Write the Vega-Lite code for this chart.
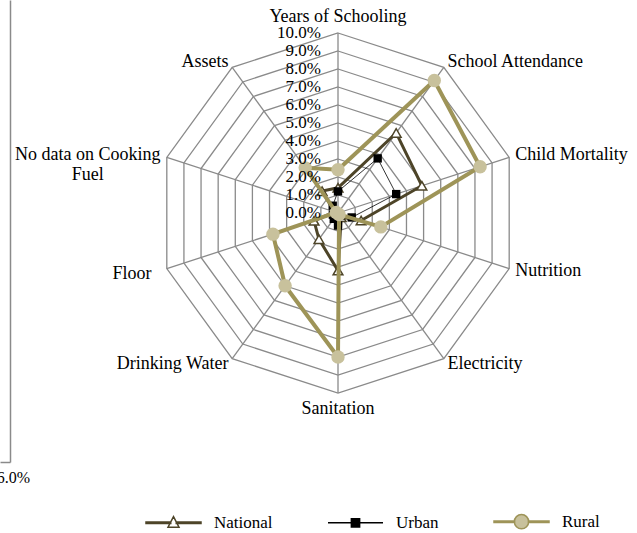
{
  "$schema": "https://vega.github.io/schema/vega-lite/v6.json",
  "width": 637,
  "height": 462,
  "autosize": {"type": "none"},
  "padding": {"left": 0, "top": 0, "right": 0, "bottom": 71},
  "background": "white",
  "config": {"view": {"stroke": null}, "font": "Liberation Serif"},
  "datasets": {
    "mpi": [
      {"idx": 0, "category": "Years of Schooling", "National": 1.4, "Urban": 1.2, "Rural": 2.4},
      {"idx": 1, "category": "School Attendance", "National": 5.5, "Urban": 3.75, "Rural": 9.1},
      {"idx": 2, "category": "Child Mortality", "National": 4.9, "Urban": 3.4, "Rural": 8.3},
      {"idx": 3, "category": "Nutrition", "National": 1.35, "Urban": 0.8, "Rural": 2.5},
      {"idx": 4, "category": "Electricity", "National": 0.3, "Urban": 0.2, "Rural": 0.1},
      {"idx": 5, "category": "Sanitation", "National": 3.2, "Urban": 0.7, "Rural": 8.0},
      {"idx": 6, "category": "Drinking Water", "National": 1.8, "Urban": 0.4, "Rural": 5.0},
      {"idx": 7, "category": "Floor", "National": 1.4, "Urban": 0.3, "Rural": 3.8},
      {"idx": 8, "category": "No data on Cooking Fuel", "National": 0.2, "Urban": 0.1, "Rural": 0.1},
      {"idx": 9, "category": "Assets", "National": 1.5, "Urban": 0.5, "Rural": 3.1}
    ],
    "rings": [
      {"level": 1, "k": [0, 1, 2, 3, 4, 5, 6, 7, 8, 9]},
      {"level": 2, "k": [0, 1, 2, 3, 4, 5, 6, 7, 8, 9]},
      {"level": 3, "k": [0, 1, 2, 3, 4, 5, 6, 7, 8, 9]},
      {"level": 4, "k": [0, 1, 2, 3, 4, 5, 6, 7, 8, 9]},
      {"level": 5, "k": [0, 1, 2, 3, 4, 5, 6, 7, 8, 9]},
      {"level": 6, "k": [0, 1, 2, 3, 4, 5, 6, 7, 8, 9]},
      {"level": 7, "k": [0, 1, 2, 3, 4, 5, 6, 7, 8, 9]},
      {"level": 8, "k": [0, 1, 2, 3, 4, 5, 6, 7, 8, 9]},
      {"level": 9, "k": [0, 1, 2, 3, 4, 5, 6, 7, 8, 9]},
      {"level": 10, "k": [0, 1, 2, 3, 4, 5, 6, 7, 8, 9]}
    ],
    "ticks": [
      {"level": 0, "tick": "0.0%"},
      {"level": 1, "tick": "1.0%"},
      {"level": 2, "tick": "2.0%"},
      {"level": 3, "tick": "3.0%"},
      {"level": 4, "tick": "4.0%"},
      {"level": 5, "tick": "5.0%"},
      {"level": 6, "tick": "6.0%"},
      {"level": 7, "tick": "7.0%"},
      {"level": 8, "tick": "8.0%"},
      {"level": 9, "tick": "9.0%"},
      {"level": 10, "tick": "10.0%"}
    ],
    "keys": [{"series": "National"}, {"series": "Urban"}, {"series": "Rural"}]
  },
  "layer": [
    {
      "data": {"name": "rings"},
      "transform": [
        {"flatten": ["k"]},
        {"calculate": "datum.k * PI / 5", "as": "a"},
        {"calculate": "datum.level * sin(datum.a)", "as": "gx"},
        {"calculate": "datum.level * cos(datum.a)", "as": "gy"}
      ],
      "mark": {"type": "line", "interpolate": "linear-closed", "stroke": "#8a8a8a", "strokeWidth": 1.3},
      "encoding": {
        "x": {"field": "gx", "type": "quantitative", "scale": {"domain": [-18.7778, 16.6111], "nice": false, "zero": false}, "axis": null},
        "y": {"field": "gy", "type": "quantitative", "scale": {"domain": [-13.8333, 11.8333], "nice": false, "zero": false},
          "axis": {"values": [-13.83], "labelExpr": "'6.0%'", "offset": -10, "domainColor": "#8a8a8a", "domainWidth": 1.5, "tickColor": "#8a8a8a", "tickWidth": 1.5, "tickSize": 10, "grid": false, "title": null, "labelAlign": "center", "labelBaseline": "middle", "labelPadding": -13, "labelOffset": 16, "labelFont": "Liberation Serif", "labelFontSize": 16, "labelColor": "#000000", "labelFlush": false, "labelOverlap": false}},
        "detail": {"field": "level", "type": "nominal"},
        "order": {"field": "k", "type": "quantitative"}
      }
    },
    {
      "data": {"name": "mpi"},
      "transform": [
        {"calculate": "datum.idx * PI / 5", "as": "a"},
        {"calculate": "10 * sin(datum.a)", "as": "gx"},
        {"calculate": "10 * cos(datum.a)", "as": "gy"},
        {"calculate": "0", "as": "z"}
      ],
      "mark": {"type": "rule", "stroke": "#8a8a8a", "strokeWidth": 1.3},
      "encoding": {
        "x": {"field": "gx", "type": "quantitative", "scale": {"domain": [-18.7778, 16.6111], "nice": false, "zero": false}, "axis": null},
        "y": {"field": "gy", "type": "quantitative", "scale": {"domain": [-13.8333, 11.8333], "nice": false, "zero": false}, "axis": null},
        "x2": {"field": "z"},
        "y2": {"field": "z"}
      }
    },
    {
      "data": {"name": "mpi"},
      "transform": [
        {"calculate": "datum.idx * PI / 5", "as": "a"},
        {"calculate": "datum.National * sin(datum.a)", "as": "gx"},
        {"calculate": "datum.National * cos(datum.a)", "as": "gy"}
      ],
      "layer": [
        {"mark": {"type": "line", "interpolate": "linear-closed", "stroke": "#4d4428", "strokeWidth": 3}},
        {"mark": {"type": "point", "shape": "triangle-up", "filled": true, "fill": "#ffffff", "stroke": "#4d4428", "strokeWidth": 1.5, "size": 95, "opacity": 1}}
      ],
      "encoding": {
        "x": {"field": "gx", "type": "quantitative", "scale": {"domain": [-18.7778, 16.6111], "nice": false, "zero": false}, "axis": null},
        "y": {"field": "gy", "type": "quantitative", "scale": {"domain": [-13.8333, 11.8333], "nice": false, "zero": false}, "axis": null},
        "order": {"field": "idx", "type": "quantitative"}
      }
    },
    {
      "data": {"name": "mpi"},
      "transform": [
        {"calculate": "datum.idx * PI / 5", "as": "a"},
        {"calculate": "datum.Urban * sin(datum.a)", "as": "gx"},
        {"calculate": "datum.Urban * cos(datum.a)", "as": "gy"}
      ],
      "layer": [
        {"mark": {"type": "line", "interpolate": "linear-closed", "stroke": "#000000", "strokeWidth": 0.8}},
        {"mark": {"type": "point", "shape": "square", "filled": true, "fill": "#000000", "size": 70, "opacity": 1}}
      ],
      "encoding": {
        "x": {"field": "gx", "type": "quantitative", "scale": {"domain": [-18.7778, 16.6111], "nice": false, "zero": false}, "axis": null},
        "y": {"field": "gy", "type": "quantitative", "scale": {"domain": [-13.8333, 11.8333], "nice": false, "zero": false}, "axis": null},
        "order": {"field": "idx", "type": "quantitative"}
      }
    },
    {
      "data": {"name": "mpi"},
      "transform": [
        {"calculate": "datum.idx * PI / 5", "as": "a"},
        {"calculate": "datum.Rural * sin(datum.a)", "as": "gx"},
        {"calculate": "datum.Rural * cos(datum.a)", "as": "gy"}
      ],
      "layer": [
        {"mark": {"type": "line", "interpolate": "linear-closed", "stroke": "#9e9458", "strokeWidth": 4}},
        {"mark": {"type": "point", "shape": "circle", "filled": true, "fill": "#c8c19c", "size": 180, "opacity": 1}}
      ],
      "encoding": {
        "x": {"field": "gx", "type": "quantitative", "scale": {"domain": [-18.7778, 16.6111], "nice": false, "zero": false}, "axis": null},
        "y": {"field": "gy", "type": "quantitative", "scale": {"domain": [-13.8333, 11.8333], "nice": false, "zero": false}, "axis": null},
        "order": {"field": "idx", "type": "quantitative"}
      }
    },
    {
      "data": {"name": "ticks"},
      "mark": {"type": "text", "align": "right", "baseline": "middle", "dx": -17, "font": "Liberation Serif", "fontSize": 17, "color": "#000000"},
      "encoding": {
        "x": {"datum": 0, "type": "quantitative", "scale": {"domain": [-18.7778, 16.6111], "nice": false, "zero": false}, "axis": null},
        "y": {"field": "level", "type": "quantitative", "scale": {"domain": [-13.8333, 11.8333], "nice": false, "zero": false}, "axis": null},
        "text": {"field": "tick"}
      }
    },
    {
      "data": {"name": "mpi"},
      "transform": [
        {"filter": "datum.idx == 0 || datum.idx == 5"},
        {"calculate": "datum.idx * PI / 5", "as": "a"},
        {"calculate": "10.9 * sin(datum.a)", "as": "gx"},
        {"calculate": "10.9 * cos(datum.a)", "as": "gy"}
      ],
      "mark": {"type": "text", "align": "center", "baseline": "middle", "font": "Liberation Serif", "fontSize": 18, "color": "#000000"},
      "encoding": {
        "x": {"field": "gx", "type": "quantitative", "scale": {"domain": [-18.7778, 16.6111], "nice": false, "zero": false}, "axis": null},
        "y": {"field": "gy", "type": "quantitative", "scale": {"domain": [-13.8333, 11.8333], "nice": false, "zero": false}, "axis": null},
        "text": {"field": "category"}
      }
    },
    {
      "data": {"name": "mpi"},
      "transform": [
        {"filter": "datum.idx >= 1 && datum.idx <= 4"},
        {"calculate": "datum.idx * PI / 5", "as": "a"},
        {"calculate": "10.35 * sin(datum.a)", "as": "gx"},
        {"calculate": "10.35 * cos(datum.a)", "as": "gy"}
      ],
      "mark": {"type": "text", "align": "left", "baseline": "middle", "font": "Liberation Serif", "fontSize": 18, "color": "#000000"},
      "encoding": {
        "x": {"field": "gx", "type": "quantitative", "scale": {"domain": [-18.7778, 16.6111], "nice": false, "zero": false}, "axis": null},
        "y": {"field": "gy", "type": "quantitative", "scale": {"domain": [-13.8333, 11.8333], "nice": false, "zero": false}, "axis": null},
        "text": {"field": "category"}
      }
    },
    {
      "data": {"name": "mpi"},
      "transform": [
        {"filter": "datum.idx == 6 || datum.idx == 9"},
        {"calculate": "datum.idx * PI / 5", "as": "a"},
        {"calculate": "10.35 * sin(datum.a)", "as": "gx"},
        {"calculate": "10.35 * cos(datum.a)", "as": "gy"}
      ],
      "mark": {"type": "text", "align": "right", "baseline": "middle", "font": "Liberation Serif", "fontSize": 18, "color": "#000000"},
      "encoding": {
        "x": {"field": "gx", "type": "quantitative", "scale": {"domain": [-18.7778, 16.6111], "nice": false, "zero": false}, "axis": null},
        "y": {"field": "gy", "type": "quantitative", "scale": {"domain": [-13.8333, 11.8333], "nice": false, "zero": false}, "axis": null},
        "text": {"field": "category"}
      }
    },
    {
      "data": {"name": "mpi"},
      "transform": [
        {"filter": "datum.idx == 7"},
        {"calculate": "datum.idx * PI / 5", "as": "a"},
        {"calculate": "10.9 * sin(datum.a)", "as": "gx"},
        {"calculate": "10.9 * cos(datum.a)", "as": "gy"}
      ],
      "mark": {"type": "text", "align": "right", "baseline": "middle", "font": "Liberation Serif", "fontSize": 18, "color": "#000000"},
      "encoding": {
        "x": {"field": "gx", "type": "quantitative", "scale": {"domain": [-18.7778, 16.6111], "nice": false, "zero": false}, "axis": null},
        "y": {"field": "gy", "type": "quantitative", "scale": {"domain": [-13.8333, 11.8333], "nice": false, "zero": false}, "axis": null},
        "text": {"field": "category"}
      }
    },
    {
      "data": {"name": "mpi"},
      "transform": [
        {"filter": "datum.idx == 8"},
        {"calculate": "datum.idx * PI / 5", "as": "a"},
        {"calculate": "10.35 * sin(datum.a)", "as": "gx"},
        {"calculate": "10.35 * cos(datum.a)", "as": "gy"}
      ],
      "mark": {"type": "text", "align": "center", "baseline": "middle", "dx": -73, "lineHeight": 20, "font": "Liberation Serif", "fontSize": 18, "color": "#000000"},
      "encoding": {
        "x": {"field": "gx", "type": "quantitative", "scale": {"domain": [-18.7778, 16.6111], "nice": false, "zero": false}, "axis": null},
        "y": {"field": "gy", "type": "quantitative", "scale": {"domain": [-13.8333, 11.8333], "nice": false, "zero": false}, "axis": null},
        "text": {"value": ["No data on Cooking", "Fuel"]}
      }
    },
    {
      "data": {"name": "keys"},
      "mark": {"type": "point", "filled": true, "opacity": 0, "size": 3025, "strokeWidth": 1.5},
      "encoding": {
        "shape": {"field": "series", "type": "nominal", "sort": ["National", "Urban", "Rural"],
          "scale": {"domain": ["National", "Urban", "Rural"], "range": [
            "M-1,-0.027H-0.1V0.027H-1ZM0.1,-0.027H1V0.027H0.1ZM0,-0.22L0.2,0.16L-0.2,0.16Z",
            "M-1,0H1M-0.15,-0.15H0.15V0.15H-0.15Z",
            "M-1,-0.027H-0.25V0.027H-1ZM0.25,-0.027H1V0.027H0.25ZM0.26,0A0.26,0.26,0,1,1,-0.26,0A0.26,0.26,0,1,1,0.26,0Z"
          ]},
          "legend": {"title": null, "orient": "none", "legendX": 145, "legendY": 493, "direction": "horizontal", "labelFont": "Liberation Serif", "labelFontSize": 17, "labelColor": "#000000", "labelOffset": 12, "columnPadding": 52, "symbolSize": 3025, "symbolStrokeWidth": 1.5, "symbolFillColor": "#ffffff"}},
        "stroke": {"field": "series", "type": "nominal", "sort": ["National", "Urban", "Rural"],
          "scale": {"domain": ["National", "Urban", "Rural"], "range": ["#4d4428", "#000000", "#9e9458"]},
          "legend": {"title": null, "orient": "none", "legendX": 145, "legendY": 493, "direction": "horizontal", "labelFont": "Liberation Serif", "labelFontSize": 17, "labelColor": "#000000", "labelOffset": 12, "columnPadding": 52, "symbolSize": 3025, "symbolStrokeWidth": 1.5, "symbolFillColor": "#ffffff"}},
        "fill": {"field": "series", "type": "nominal", "sort": ["National", "Urban", "Rural"],
          "scale": {"domain": ["National", "Urban", "Rural"], "range": ["#ffffff", "#000000", "#c8c19c"]},
          "legend": {"title": null, "orient": "none", "legendX": 145, "legendY": 493, "direction": "horizontal", "labelFont": "Liberation Serif", "labelFontSize": 17, "labelColor": "#000000", "labelOffset": 12, "columnPadding": 52, "symbolSize": 3025, "symbolStrokeWidth": 1.5, "symbolFillColor": "#ffffff"}}
      }
    }
  ],
  "resolve": {"axis": {"x": "independent", "y": "independent"}}
}
